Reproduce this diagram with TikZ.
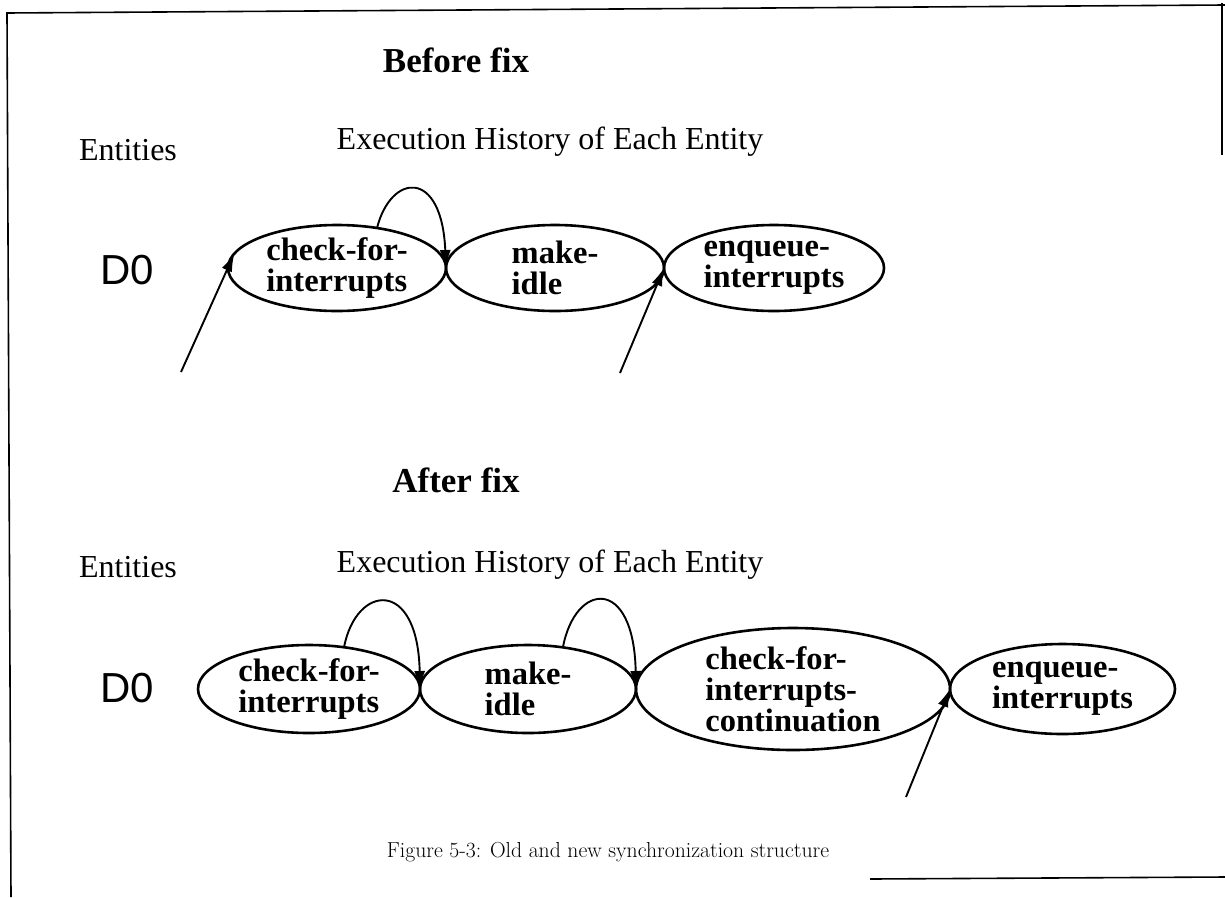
\documentclass[tikz,border=0pt]{standalone}
\usepackage{fontspec}
\newfontfamily\tms{Liberation Serif}
\newfontfamily\hlv{Liberation Sans}
\usetikzlibrary{shapes.geometric,arrows.meta}
\begin{document}
\begin{tikzpicture}[x=1pt,y=-1pt,
  st/.style={ellipse,draw,line width=2.6pt,inner xsep=-20pt,inner ysep=-15pt,outer sep=0pt,
    font=\tms\bfseries\fontsize{32.5}{31}\selectfont,align=left},
  arr/.style={line width=1.9pt,-{Latex[length=18pt,width=11pt]}},
  ttl/.style={font=\tms\bfseries\fontsize{35}{40}\selectfont},
  lbl/.style={font=\tms\fontsize{32}{38}\selectfont},
  ent/.style={font=\hlv\fontsize{42}{48}\selectfont},
  frame/.style={line width=1.6pt}]
\useasboundingbox (0,0) rectangle (1225,897);
% scan frame
\draw[frame] (1225,5) -- (7,13) -- (11,897);
\draw[frame] (1222,3) -- (1222,155);
\draw[frame] (870,879) -- (1225,877);

% ---- Before fix ----
\node[ttl] (bf) at (456,60) {Before fix};
\node[lbl] (ent1) at (128,150) {Entities};
\node[lbl] (eh1) at (550,142) {Execution History of Each Entity};
\node[ent] (d1) at (127,270) {D0};
\node[st,minimum width=218pt,minimum height=86pt] (a1) at (337,268) {check-for-\\interrupts};
\node[st,minimum width=218pt,minimum height=86pt] (a2) at (555,268) {make-\\idle};
\node[st,minimum width=220pt,minimum height=86pt] (a3) at (774,268) {enqueue-\\interrupts};
\coordinate (t1) at (181,372);
\coordinate (t2) at (620,373);
\draw[arr] (a1.45) .. controls +(14,-55) and +(-4,-100) .. (a1.east);
\draw[arr] (t1) -- (a1.172);
\draw[arr] (t2) -- (a2.east);

% ---- After fix ----
\node[ttl] (af) at (456,480) {After fix};
\node[lbl] (ent2) at (128,567) {Entities};
\node[lbl] (eh2) at (550,565) {Execution History of Each Entity};
\node[ent] (d2) at (127,688) {D0};
\node[st,minimum width=222pt,minimum height=88pt] (b1) at (309,689) {check-for-\\interrupts};
\node[st,minimum width=216pt,minimum height=88pt] (b2) at (528,689) {make-\\idle};
\node[st,minimum width=314pt,minimum height=122pt] (b3) at (793,689) {check-for-\\interrupts-\\continuation};
\node[st,minimum width=225pt,minimum height=90pt] (b4) at (1062.5,689) {enqueue-\\interrupts};
\coordinate (t3) at (906,797);
\draw[arr] (b1.50) .. controls +(12,-63) and +(-2,-112) .. (b1.east);
\draw[arr] (b2.50) .. controls +(12,-65) and +(-2,-114) .. (b2.east);
\draw[arr] (t3) -- (b3.east);

% caption
\node[font=\fontsize{21.7}{26}\selectfont] (cap) at (608,852) {Figure 5-3: Old and new synchronization structure};
\end{tikzpicture}
\end{document}
